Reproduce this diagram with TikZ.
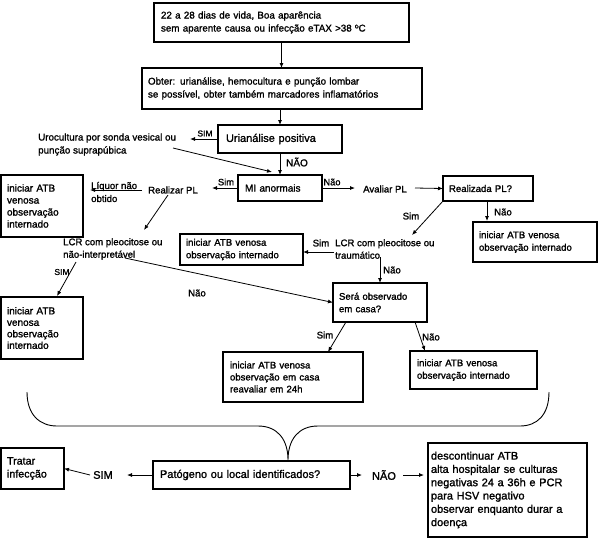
\documentclass[tikz,border=0pt]{standalone}
\usepackage{fontspec}
\setmainfont{Liberation Sans}[FakeBold=1.4]
\usetikzlibrary{arrows.meta}
\begin{document}
\begin{tikzpicture}[x=1pt,y=-1pt,
  box/.style={draw, line width=1.1pt, align=left, inner ysep=0pt, outer sep=0pt},
  txt/.style={inner sep=0pt, align=left},
  arr/.style={-{Latex[length=5pt,width=4pt]}, line width=0.8pt},
  ln/.style={line width=0.9pt},
  fA/.style={font=\fontsize{9.8}{13}\selectfont},
  fB/.style={font=\fontsize{9.6}{12.5}\selectfont},
  fC/.style={font=\fontsize{10}{12}\selectfont},
  fD/.style={font=\fontsize{11}{13.3}\selectfont},
  fS/.style={font=\fontsize{8.5}{10}\selectfont},
  fL/.style={font=\fontsize{9.3}{11}\selectfont}]
\useasboundingbox (0,0) rectangle (600,542);

% boxes
\node[box, fA, minimum width=255, minimum height=39, text width=241, inner xsep=7] (n1) at (281.5,22.5)
  {22 a 28 dias de vida, Boa aparência\\sem aparente causa ou infecção eTAX >38 ºC};
\node[box, fA, minimum width=280, minimum height=41, text width=268, inner xsep=6] (n2) at (282,88.5)
  {Obter: urianálise, hemocultura e punção lombar\\se possível, obter também marcadores inflamatórios};
\node[box, fD, minimum width=124, minimum height=28, text width=108, inner xsep=8] (n3) at (280,139)
  {Urianálise positiva};
\node[txt, fA, anchor=west] (uro) at (38,144.5) {Urocultura por sonda vesical ou\\punção suprapúbica};
\node[box, fC, minimum width=84, minimum height=26, text width=70, inner xsep=7] (mi) at (280,188)
  {MI anormais};
\node[txt, fB] (real) at (173,190) {Realizar PL};
\node[txt, fB, anchor=west, font=\fontsize{9.6}{13}\selectfont] (liq) at (91,192) {Líquor não\\obtido};
\node[box, fC, minimum width=82, minimum height=62, text width=70, inner xsep=6] (la) at (42,206)
  {iniciar ATB\\venosa\\observação\\internado};
\node[txt, fB, anchor=west] (lcr1) at (63,249) {LCR com pleocitose ou\\não-interpretável};
\node[box, fC, minimum width=82, minimum height=62, text width=70, inner xsep=6, font=\fontsize{10}{11.5}\selectfont] (lb) at (42,328)
  {iniciar ATB\\venosa\\observação\\internado};
\node[box, fB, minimum width=123, minimum height=31, text width=111, inner xsep=6] (lc) at (241.5,249.5)
  {iniciar ATB venosa\\observação internado};
\node[txt, fB, anchor=west] (lcr2) at (335,249) {LCR com pleocitose ou\\traumático};
\node[txt, fB] (aval) at (385,189) {Avaliar PL};
\node[box, fB, minimum width=90, minimum height=25, text width=78, inner xsep=6] (rpl) at (488,188.5)
  {Realizada PL?};
\node[box, fB, minimum width=124, minimum height=40, text width=112, inner xsep=6] (ld) at (535,242)
  {iniciar ATB venosa\\observação internado};
\node[box, fB, minimum width=94, minimum height=39, text width=82, inner xsep=6] (ser) at (380,302.5)
  {Será observado\\em casa?};
\node[box, fB, minimum width=140, minimum height=50, text width=126, inner xsep=7, font=\fontsize{9.6}{12}\selectfont] (le) at (293,377)
  {iniciar ATB venosa\\observação em casa\\reavaliar em 24h};
\node[box, fB, minimum width=127, minimum height=38, text width=113, inner xsep=7] (lf) at (473.5,370)
  {iniciar ATB venosa\\observação internado};
\node[box, fD, minimum width=197, minimum height=28, text width=183, inner xsep=7] (pat) at (251.5,475)
  {Patógeno ou local identificados?};
\node[box, fD, minimum width=63, minimum height=41, text width=51, inner xsep=6, font=\fontsize{10.7}{13}\selectfont] (tr) at (32.5,468.5)
  {Tratar\\infecção};
\node[box, fD, minimum width=159, minimum height=94, text width=153, inner xsep=3] (desc) at (507.5,490)
  {descontinuar ATB\\alta hospitalar se culturas\\negativas 24 a 36h e PCR\\para HSV negativo\\observar enquanto durar a\\doença};
\node[txt, fD] (sim) at (103,475) {SIM};
\node[txt, fD] (nao) at (384,475) {NÃO};

% labels
\node[txt, fS] (l1) at (205,133.5) {SIM};
\node[txt, fC] (l2) at (297,162) {NÃO};
\node[txt, fL] (l3) at (226,182) {Sim};
\node[txt, fL] (l4) at (332,182) {Não};
\node[txt, fB] (l5) at (411,216) {Sim};
\node[txt, fB] (l6) at (503,212) {Não};
\node[txt, fB] (l7) at (321,243) {Sim};
\node[txt, fB] (l8) at (392,270) {Não};
\node[txt, fS] (l9) at (62,272) {SIM};
\node[txt, fB] (l10) at (197,293) {Não};
\node[txt, fB] (l11) at (325,335) {Sim};
\node[txt, fB] (l12) at (431,337) {Não};

% connectors
\draw[arr] (n1.south) -- (n1.south |- n2.north);
\draw[arr] (n3.north |- n2.south) -- (n3.north);
\draw[arr] (n3.west) -- ++(-28,0);
\coordinate (u1) at (173,148);
\coordinate (u2) at (272,172);
\draw[arr] (u1) -- (u2);
\draw[arr] (n3.south) -- (mi.north);
\draw[arr] (mi.west) -- ++(-26,0);
\coordinate (r1) at (142,190);
\coordinate (r2) at (90,190);
\draw[arr] (r1) -- (r2);
\coordinate (r3) at (168,195);
\coordinate (r4) at (144,230);
\draw[arr] (r3) -- (r4);
\coordinate (c1) at (76,262);
\coordinate (c2) at (57,296);
\draw[arr] (c1) -- (c2);
\coordinate (c3) at (125,258);
\draw[arr] (c3) -- (ser.west);
\draw[arr] (mi.east) -- (355,188);
\coordinate (a1) at (415,188);
\draw[arr] (a1) -- (rpl.west);
\coordinate (p1) at (412,235);
\draw[arr] (rpl.south west) -- (p1);
\coordinate (p2) at (487,201);
\draw[arr] (p2) -- (487,221);
\coordinate (t1) at (334,252);
\draw[arr] (t1) -- (t1 -| lc.east);
\coordinate (t2) at (380,257);
\draw[arr] (t2) -- (ser.north);
\coordinate (s1) at (346,322);
\coordinate (s2) at (328,352);
\draw[arr] (s1) -- (s2);
\coordinate (s3) at (415,322);
\coordinate (s4) at (425,351);
\draw[arr] (s3) -- (s4);
\draw[arr] (pat.west) -- (127,475);
\coordinate (m1) at (90,475);
\draw[arr] (m1) -- (tr.east);
\draw[arr] (pat.east) -- (362,475);
\coordinate (m2) at (403,475);
\draw[arr] (m2) -- (424,475);

% brace
\draw[ln] (27,392) .. controls (27,415) and (40,426) .. (57,426) -- (258,426)
  .. controls (278,426) and (288,440) .. (288,460)
  .. controls (288,440) and (298,426) .. (318,426) -- (520,426)
  .. controls (537,426) and (549,415) .. (549,392);
\end{tikzpicture}
\end{document}
